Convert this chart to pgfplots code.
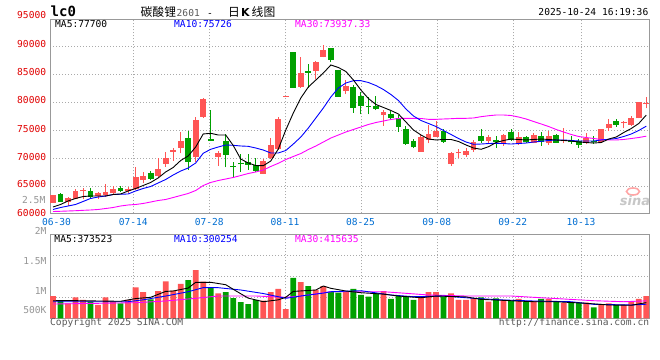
\documentclass[border=0pt]{standalone}
\usepackage{pgfplots}
\pgfplotsset{compat=1.18}
\usepackage{pgfplotstable}
\usepackage{fontspec}
\setmainfont{DejaVu Sans}
\newfontfamily\mono{DejaVu Sans Mono}
\newfontfamily\cjk{Noto Sans CJK SC}
\definecolor{upred}{RGB}{255,85,85}
\definecolor{dngreen}{RGB}{0,160,0}
\definecolor{gridc}{RGB}{170,170,170}
\definecolor{framec}{RGB}{153,153,153}
\definecolor{datec}{RGB}{0,110,210}
\definecolor{pricec}{RGB}{225,0,0}
\definecolor{volc}{RGB}{150,150,150}
\definecolor{copyc}{RGB}{90,90,90}
\definecolor{maM}{RGB}{255,0,255}
\definecolor{maB}{RGB}{0,0,255}

% candles: rising (red)
\pgfplotstableread{
i o h l c
0 62090 63500 62050 63460
2 62270 63110 61500 62980
3 62800 64480 62700 64180
4 64100 64660 62700 64280
6 63290 64000 62800 63730
7 63520 65420 63160 64050
8 63770 65070 63640 64530
10 64250 64850 63900 64450
11 64590 68500 64350 66720
12 66130 67610 65550 66850
14 66850 70000 66620 68090
15 69040 71180 68500 70050
16 71120 71890 69570 71480
17 71890 74740 70890 73130
19 70280 77410 69390 76820
20 77410 80650 77180 80560
22 70180 71350 68680 70940
28 67270 69880 67200 69570
29 70000 73620 69880 72370
30 71660 77300 71480 77000
31 80960 81140 80960 81140
33 82750 88090 82520 85190
35 85600 87380 84120 87100
36 88090 90180 87990 89290
39 81990 83940 81450 82880
44 77710 78600 75810 78300
49 71180 74330 71180 73740
50 73260 75930 72670 74330
51 73850 76640 73740 74920
53 68980 71180 68630 71000
54 70890 71600 70110 71120
55 70590 71780 70280 71350
56 71480 73260 71180 72960
58 73080 74150 72780 73850
60 72490 74330 72240 74150
62 72670 74630 72370 73740
64 72780 74560 72670 74150
66 72670 74920 72370 73970
68 73030 75340 72670 73260
71 72670 74450 72490 73560
73 72960 75200 72900 75160
74 75340 76950 74920 76060
76 76230 76700 75340 76410
77 75930 77590 75810 77120
78 77120 80100 77100 80080
79 79670 80920 78870 79850
}\candUp

% candles: falling (green)
\pgfplotstableread{
i o h l c
1 63590 63820 62270 62270
5 64180 64660 62880 63160
9 64710 65070 64050 64180
13 67440 67740 66130 66370
18 73560 74860 67920 69390
21 73350 78650 73050 73150
23 73030 74330 68400 70640
24 68680 69290 66720 68500
25 69160 70770 67610 68900
26 69390 70770 67970 68860
27 68860 70000 67510 67790
32 88990 88990 82520 82520
34 85490 86790 82520 85250
37 89640 89640 87100 87560
38 85780 85780 80970 80970
40 82650 83050 78120 79010
41 81100 81810 77840 79310
42 79310 80970 77840 79080
43 79310 81100 78600 78830
45 77890 78420 76820 77180
46 77120 77710 74740 75630
47 75220 75750 72370 72550
48 73080 73380 71780 71960
52 74860 75160 72780 72960
57 73970 75220 72780 73080
59 73260 73970 71890 72960
61 74630 75160 73080 73260
63 73740 73970 72670 72850
65 73970 74740 72240 72960
67 74150 74330 72720 72780
69 73130 73970 72550 72850
70 73080 73380 71890 72370
72 73130 73900 72550 72960
75 76640 76950 75630 75930
}\candDn

% price moving averages
\pgfplotstableread{
i m5 m10 m30
0 61320 60880 60520
1 61770 61230 60560
2 62390 61500 60610
3 62840 61770 60660
4 63190 62300 60730
5 63280 62840 60790
6 63280 63100 60880
7 63280 63280 61050
8 63550 63550 61230
9 63640 63600 61500
10 64170 63640 61680
11 64620 64170 61770
12 65150 64620 61950
13 65690 64970 62210
14 66490 65600 62480
15 67560 66220 62660
16 68360 67020 63010
17 69600 67730 63370
18 70410 68270 63730
19 72010 69160 64260
20 74330 70890 65150
21 74450 71600 65690
22 74150 72010 66040
23 74150 72370 66310
24 72280 72310 66580
25 69870 72190 66930
26 69160 72130 67290
27 68710 71830 67560
28 68680 71470 67910
29 69520 70940 68540
30 71650 70940 69110
31 75040 71390 69780
32 78070 72540 70320
33 80740 73790 70850
34 82700 75390 71560
35 83940 77180 72190
36 85190 78960 72900
37 86620 80920 73610
38 86170 82520 74150
39 85460 83410 74680
40 83940 83820 75130
41 82160 83820 75570
42 80650 83500 76020
43 79580 82960 76370
44 79050 82250 76640
45 78510 81360 76910
46 77890 80290 77090
47 76460 78780 77120
48 75040 77530 77120
49 74150 76730 77090
50 73430 76200 76940
51 73260 75660 76940
52 73350 74950 77000
53 73350 74240 77050
54 72990 73520 77120
55 72370 72900 77120
56 71830 72490 77180
57 71600 72540 77410
58 72060 72630 77580
59 72810 72670 77710
60 73170 72630 77710
61 73430 72540 77620
62 73350 72630 77350
63 73260 72720 77000
64 73350 72900 76550
65 73430 73020 76110
66 73350 73170 75660
67 73260 73260 75130
68 73170 73260 74680
69 73080 73170 74240
70 72900 73080 73880
71 72810 73080 73700
72 72720 73080 73520
73 72810 73260 73350
74 73430 73380 73260
75 73790 73520 73260
76 74590 73880 73350
77 75300 74330 73520
78 76200 74950 73700
79 77700 75726 73937
}\mapr

% volume, rising days
\pgfplotstableread{
i v
0 531000
2 357000
3 500000
4 436000
6 317000
7 500000
8 395000
10 436000
11 738000
12 626000
14 650000
15 881000
16 657000
17 817000
19 1150000
20 871000
22 595000
28 419000
29 626000
30 698000
31 221000
33 864000
35 674000
36 769000
39 626000
44 650000
49 514000
50 626000
51 626000
53 595000
54 436000
55 436000
56 476000
58 395000
60 436000
62 460000
64 412000
66 460000
68 371000
71 371000
73 317000
74 357000
76 317000
77 412000
78 460000
79 531000
}\volUp

% volume, falling days
\pgfplotstableread{
i v
1 419000
5 395000
9 357000
13 452000
18 912000
21 729000
23 626000
24 483000
25 388000
26 340000
27 436000
32 960000
34 769000
37 630000
38 610000
40 698000
41 555000
42 514000
43 595000
45 460000
46 531000
47 514000
48 436000
52 514000
57 500000
59 476000
61 412000
63 395000
65 460000
67 395000
69 371000
70 371000
72 262000
75 317000
}\volDn

\pgfplotstableread{
i v
0 419000
3 420000
9 405000
11 470000
13 500000
15 640000
16 650000
18 720000
19 857000
21 857000
23 800000
24 690000
26 480000
28 395000
30 440000
31 500000
32 640000
35 674000
36 769000
37 714000
39 650000
41 610000
44 575000
46 530000
49 490000
51 530000
55 510000
57 450000
59 436000
62 410000
64 395000
67 395000
71 357000
74 317000
77 310000
79 373523
}\vmaA

\pgfplotstableread{
i v
0 395000
10 395000
12 440000
15 530000
18 633000
20 730000
22 729000
25 674000
28 590000
31 476000
33 531000
36 600000
37 633000
41 657000
45 555000
48 514000
52 531000
56 476000
60 436000
64 412000
69 395000
72 333000
77 317000
79 335000
}\vmaB

\pgfplotstableread{
i v
0 340000
11 371000
15 412000
19 476000
22 531000
27 531000
31 500000
33 531000
37 633000
44 633000
47 595000
50 555000
55 531000
61 531000
64 500000
68 460000
72 419000
76 395000
79 415635
}\vmaC

\pgfplotsset{
  chartbase/.style={
    scale only axis, width=599.5bp,
    xmin=-0.4, xmax=79.43,
    xtick={10.69,20.81,30.89,41.10,51.12,61.32,70.37},
    xticklabels={}, yticklabels={},
    scaled ticks=false,
    grid=major,
    major grid style={draw=gridc, line width=0.8bp, dash pattern=on 1bp off 2bp},
    axis line style={draw=framec, line width=0.9bp},
    tick style={draw=none},
  },
  wick/.style={draw=none, mark=none, forget plot,
    error bars/.cd, y dir=plus, y explicit, error mark=none,
    error bar style={draw=#1, line width=1bp}},
  body/.style={draw=none, mark=none, forget plot,
    error bars/.cd, y dir=plus, y explicit, error mark=none,
    error bar style={draw=#1, line width=5.8bp}},
}

\tikzset{
  mt/.style={font=\mono\fontsize{9.6bp}{10bp}\selectfont, inner sep=0pt, text height=7bp, text depth=0pt},
}

\begin{document}
\begin{tikzpicture}
\path[use as bounding box, fill=white] (0,0) rectangle (660bp,-360bp);

% ---------- price panel ----------
\begin{axis}[chartbase, at={(50bp,-213.3bp)}, anchor=south west,
  height=194.3bp, ymin=60200, ymax=94810,
  ytick={65000,70000,75000,80000,85000,90000}]
\addplot[wick=upred] table[x=i, y=l, y error plus expr=\thisrow{h}-\thisrow{l}] {\candUp};
\addplot[wick=dngreen] table[x=i, y=l, y error plus expr=\thisrow{h}-\thisrow{l}] {\candDn};
\addplot[body=upred] table[x=i, y=o, y error plus expr=\thisrow{c}-\thisrow{o}] {\candUp};
\addplot[body=dngreen] table[x=i, y=c, y error plus expr=\thisrow{o}-\thisrow{c}] {\candDn};
\addplot[maM, line width=0.9bp, mark=none] table[x=i, y=m30] {\mapr};
\addplot[maB, line width=0.9bp, mark=none] table[x=i, y=m10] {\mapr};
\addplot[black, line width=0.9bp, mark=none] table[x=i, y=m5] {\mapr};
\end{axis}

% ---------- volume panel ----------
\begin{axis}[chartbase, at={(50bp,-318.3bp)}, anchor=south west,
  height=84bp, ymin=0, ymax=2000000,
  ytick={500000,1000000,1500000}]
\addplot[ybar, bar width=5.8bp, bar shift=0pt, fill=upred, draw=none] table[x=i, y=v] {\volUp};
\addplot[ybar, bar width=5.8bp, bar shift=0pt, fill=dngreen, draw=none] table[x=i, y=v] {\volDn};
\addplot[maM, line width=0.9bp, mark=none] table[x=i, y=v] {\vmaC};
\addplot[maB, line width=0.9bp, mark=none] table[x=i, y=v] {\vmaB};
\addplot[black, line width=0.9bp, mark=none] table[x=i, y=v] {\vmaA};
\end{axis}

% ---------- texts ----------
\begin{scope}[x=1bp, y=-1bp]
\node[anchor=west, inner sep=0pt, font=\mono\bfseries\fontsize{14bp}{14bp}\selectfont, text height=10bp, text depth=0pt] at (50.5,11.8) {lc0};
\node[anchor=base west, inner sep=0pt, font=\cjk\fontsize{11.8bp}{12bp}\selectfont] at (140.5,16.3) {碳酸锂};
\node[mt, anchor=west, text=copyc] at (176.5,12.5) {2601};
\node[mt, anchor=center] at (210,12.5) {-};
\node[anchor=base west, inner sep=0pt, font=\cjk\fontsize{11.8bp}{12bp}\selectfont] at (228,16.3) {日};
\node[anchor=base west, inner sep=0pt, font=\bfseries\fontsize{11bp}{12bp}\selectfont] at (241,16.3) {K};
\node[anchor=base west, inner sep=0pt, font=\cjk\fontsize{11.8bp}{12bp}\selectfont] at (251.5,16.3) {线图};
\node[mt, anchor=east] at (648.5,12.3) {2025-10-24 16:19:36};

\node[mt, anchor=west] at (55,24) {MA5:77700};
\node[mt, anchor=west, text=maB] at (174,24) {MA10:75726};
\node[mt, anchor=west, text=maM] at (295,24) {MA30:73937.33};

\foreach \lab/\yy in {95000/15.3, 90000/44.3, 85000/72.3, 80000/100.3, 75000/128.7, 70000/156.5, 65000/184.4, 60000/212.5}
  \node[mt, anchor=east, text=pricec] at (46.3,\yy) {\lab};
\node[mt, anchor=east, text=volc] at (45.5,199.5) {2.5M};

\foreach \lab/\xx in {06-30/56.5, 07-14/133.3, 08-11/285, 07-28/209.3, 08-25/360.5, 09-08/436.7, 09-22/512.7, 10-13/581}
  \node[mt, anchor=center, text=datec] at (\xx,221.5) {\lab};

\node[mt, anchor=east, text=volc] at (46.7,231) {2M};
\node[mt, anchor=east, text=volc] at (46.7,260.7) {1.5M};
\node[mt, anchor=east, text=volc] at (46.7,290.7) {1M};
\node[mt, anchor=east, text=volc] at (46.7,310.3) {500K};

\node[mt, anchor=west] at (54.3,238.5) {MA5:373523};
\node[mt, anchor=west, text=maB] at (174,238.5) {MA10:300254};
\node[mt, anchor=west, text=maM] at (295,238.5) {MA30:415635};

\node[mt, anchor=west, text=copyc] at (50,322.3) {Copyright 2025 SINA.COM};
\node[mt, anchor=east, text=copyc] at (649.3,322.3) {http://finance.sina.com.cn};

% watermark
\draw[red!35, line width=1.6bp] (633,191.5) ellipse (6.5 and 3.5);
\node[anchor=center, inner sep=0pt, text=black!22, font=\bfseries\itshape\fontsize{13bp}{13bp}\selectfont] at (635,201) {sina};
\end{scope}
\end{tikzpicture}
\end{document}
